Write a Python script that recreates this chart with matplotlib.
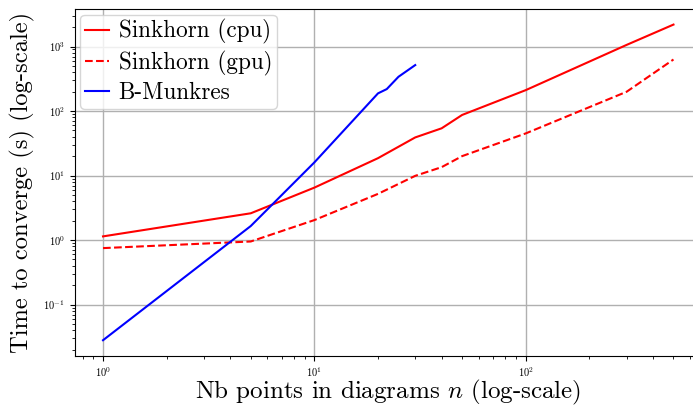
import matplotlib
matplotlib.use("Agg")
import matplotlib.pyplot as plt

plt.rcParams['font.family'] = 'serif'
plt.rcParams['font.serif'] = ['cmr10', 'DejaVu Serif']
plt.rcParams['mathtext.fontset'] = 'cm'
plt.rcParams['axes.formatter.use_mathtext'] = True

# Data
n_sinkhorn = [1, 5, 10, 20, 30, 40, 50, 100, 300, 500]
t_cpu = [1.14, 2.6, 6.5, 18.6, 39, 54, 87, 211, 1060, 2190]
t_gpu = [0.75, 0.95, 2.04, 5.2, 9.9, 13.5, 20, 45, 199, 630]
n_munkres = [1, 5, 10, 20, 22, 25, 30]
t_munkres = [0.028, 1.65, 16, 188, 219, 340, 516]

fig = plt.figure(figsize=(6.93, 4.05), dpi=100)
ax = fig.add_axes([74.5 / 693, 49 / 405, (702 - 74.5) / 693, (356 - 8.8) / 405])

ax.plot(n_sinkhorn, t_cpu, color='red', linestyle='-', linewidth=1.5, label='Sinkhorn (cpu)')
ax.plot(n_sinkhorn, t_gpu, color='red', linestyle='--', linewidth=1.5, label='Sinkhorn (gpu)')
ax.plot(n_munkres, t_munkres, color='blue', linestyle='-', linewidth=1.5, label='B-Munkres')

ax.set_xscale('log')
ax.set_yscale('log')
ax.grid(True, which='major', color='#b0b0b0', linewidth=1.0)
ax.tick_params(labelsize=7.5)

ax.set_xlabel('Nb points in diagrams $n$ (log-scale)', fontsize=18.0, labelpad=-1.3)
ax.set_ylabel('Time to converge (s) (log-scale)', fontsize=17.7, labelpad=6)
ax.legend(loc='upper left', fontsize=16.7, handlelength=1.05, handletextpad=0.4,
          labelspacing=0.28, borderpad=0.2, borderaxespad=0.25)

fig.savefig('out.png', dpi=100)
